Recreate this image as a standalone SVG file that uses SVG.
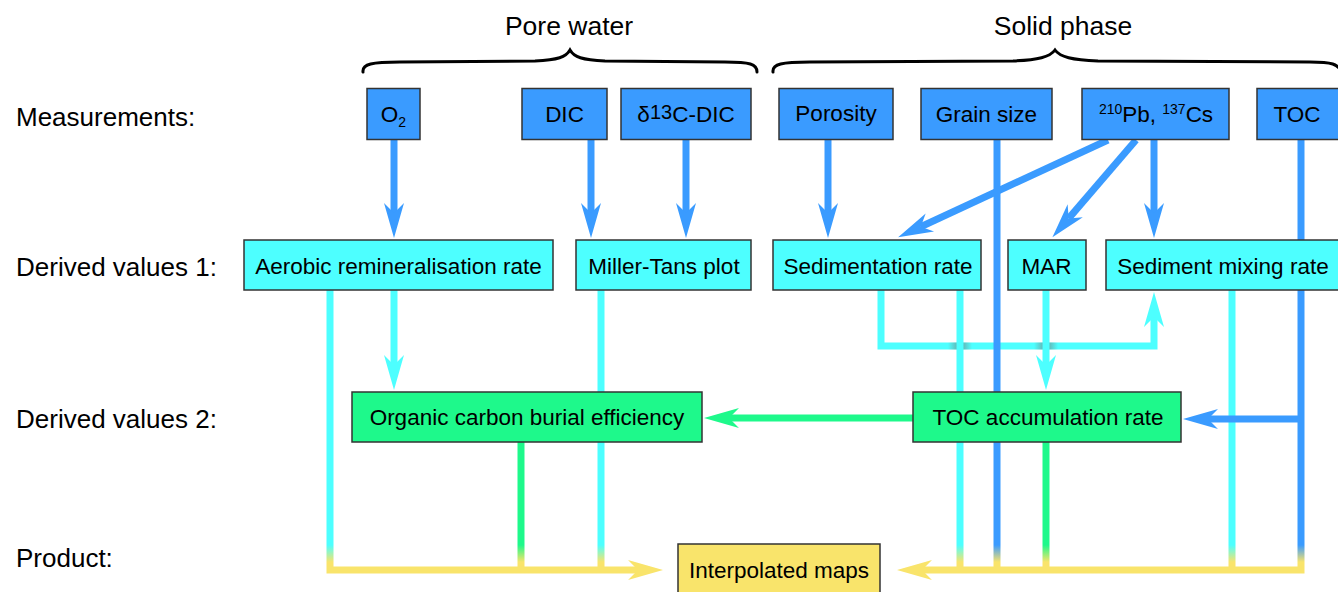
<svg xmlns="http://www.w3.org/2000/svg" width="1338" height="592" viewBox="0 0 1338 592">
<style>
text{font-family:"Liberation Sans",Arial,sans-serif;fill:#000}
.lbl{font-size:26px}
.ttl{font-size:26.5px;text-anchor:middle}
.bt{font-size:22.5px;text-anchor:middle}
.box{stroke:#333;stroke-width:1.5}
.m{fill:#3a9bff}
.d1{fill:#4dffff}
.d2{fill:#1ef98b}
.p{fill:#f9e46b}
.ln{fill:none;stroke-width:7;stroke-linejoin:miter}
.cb{stroke:#3a9bff}
.cc{stroke:#4dffff}
.cg{stroke:#1ef98b}
.cy{stroke:#f9e46b}
.brace{fill:none;stroke:#000;stroke-width:3;stroke-linecap:round}
</style>
<defs>
<marker id="ab" markerUnits="userSpaceOnUse" orient="auto" refX="0" refY="0" markerWidth="40" markerHeight="24" overflow="visible"><path d="M25,0 L-10,-10 L0,0 L-10,10 Z" fill="#3a9bff"/></marker>
<marker id="ac" markerUnits="userSpaceOnUse" orient="auto" refX="0" refY="0" markerWidth="40" markerHeight="24" overflow="visible"><path d="M25,0 L-10,-10 L0,0 L-10,10 Z" fill="#4dffff"/></marker>
<marker id="ag" markerUnits="userSpaceOnUse" orient="auto" refX="0" refY="0" markerWidth="40" markerHeight="24" overflow="visible"><path d="M25,0 L-10,-10 L0,0 L-10,10 Z" fill="#1ef98b"/></marker>
<marker id="ay" markerUnits="userSpaceOnUse" orient="auto" refX="0" refY="0" markerWidth="40" markerHeight="24" overflow="visible"><path d="M25,0 L-10,-10 L0,0 L-10,10 Z" fill="#f9e46b"/></marker>
<linearGradient id="gc" gradientUnits="userSpaceOnUse" x1="0" y1="545" x2="0" y2="562"><stop offset="0" stop-color="#4dffff"/><stop offset="1" stop-color="#f9e46b"/></linearGradient>
<linearGradient id="gb" gradientUnits="userSpaceOnUse" x1="0" y1="545" x2="0" y2="562"><stop offset="0" stop-color="#3a9bff"/><stop offset="1" stop-color="#f9e46b"/></linearGradient>
<linearGradient id="gg" gradientUnits="userSpaceOnUse" x1="0" y1="545" x2="0" y2="562"><stop offset="0" stop-color="#1ef98b"/><stop offset="1" stop-color="#f9e46b"/></linearGradient>
<linearGradient id="sh" x1="0" y1="0" x2="1" y2="0"><stop offset="0" stop-color="#777" stop-opacity="0"/><stop offset="0.5" stop-color="#777" stop-opacity="0.7"/><stop offset="1" stop-color="#777" stop-opacity="0"/></linearGradient>
</defs>

<g id="headers">
<text class="ttl" x="569" y="35">Pore water</text>
<text class="ttl" x="1063" y="35">Solid phase</text>
<path class="brace" d="M363,72 C362,64 372,62 400,62 L535,61 C558,60 566,57 570,50 C574,57 582,60 605,61 L725,62 C750,62 757,64 757,72"/>
<path class="brace" d="M773,72 C772,64 782,62 810,62 L1013,61 C1038,60 1050,57 1055,50 C1060,57 1072,60 1098,61 L1310,62 C1332,62 1338,64 1342,72"/>
<text class="lbl" x="16" y="126">Measurements:</text>
<text class="lbl" x="16" y="276">Derived values 1:</text>
<text class="lbl" x="16" y="428">Derived values 2:</text>
<text class="lbl" x="16" y="567">Product:</text>
</g>

<g id="connectors">
<line class="ln cb" x1="394" y1="140" x2="394" y2="213" marker-end="url(#ab)"/>
<line class="ln cb" x1="591" y1="140" x2="591" y2="213" marker-end="url(#ab)"/>
<line class="ln cb" x1="686" y1="140" x2="686" y2="213" marker-end="url(#ab)"/>
<line class="ln cb" x1="828" y1="140" x2="828" y2="213" marker-end="url(#ab)"/>
<line class="ln cb" x1="1108" y1="140" x2="920.8" y2="226.7" marker-end="url(#ab)"/>
<line class="ln cb" x1="1136" y1="140" x2="1068.7" y2="218.4" marker-end="url(#ab)"/>
<line class="ln cb" x1="1154" y1="140" x2="1154" y2="213" marker-end="url(#ab)"/>
<path class="ln cc" d="M881,290 V346 H1154 V317" marker-end="url(#ac)"/>
<rect x="948" y="342.5" width="24" height="7" fill="url(#sh)"/>
<rect x="1034" y="342.5" width="24" height="7" fill="url(#sh)"/>
<line class="ln cc" x1="394" y1="290" x2="394" y2="365" marker-end="url(#ac)"/>
<line class="ln cc" x1="1046" y1="290" x2="1046" y2="365" marker-end="url(#ac)"/>
<path class="ln" stroke="url(#gc)" d="M330,290 V570 H638" marker-end="url(#ay)"/>
<line class="ln" stroke="url(#gg)" x1="521" y1="442" x2="521" y2="570"/>
<line class="ln" stroke="url(#gc)" x1="601" y1="290" x2="601" y2="570"/>
<line class="ln" stroke="url(#gc)" x1="960" y1="290" x2="960" y2="570"/>
<line class="ln" stroke="url(#gg)" x1="1046" y1="442" x2="1046" y2="570"/>
<line class="ln" stroke="url(#gc)" x1="1232" y1="290" x2="1232" y2="570"/>
<line class="ln" stroke="url(#gb)" x1="997" y1="140" x2="997" y2="570"/>
<path class="ln" stroke="url(#gb)" d="M1301,140 V570 H922" marker-end="url(#ay)"/>
<line class="ln cb" x1="1301" y1="419" x2="1208" y2="419" marker-end="url(#ab)"/>
<line class="ln cg" x1="913" y1="418" x2="729" y2="418" marker-end="url(#ag)"/>
</g>

<g id="node-o2"><rect class="box m" x="367" y="88.5" width="53" height="51"/><text class="bt" x="393.5" y="122">O<tspan font-size="14" dy="5">2</tspan></text></g>
<g id="node-dic"><rect class="box m" x="522" y="88.5" width="85" height="51"/><text class="bt" x="564.5" y="122">DIC</text></g>
<g id="node-d13c"><rect class="box m" x="621" y="88.5" width="130" height="51"/><text class="bt" x="686" y="122">δ<tspan font-size="20" dy="-3">13</tspan><tspan dy="3">C-DIC</tspan></text></g>
<g id="node-porosity"><rect class="box m" x="779" y="88.5" width="114" height="51"/><text class="bt" x="836" y="121">Porosity</text></g>
<g id="node-grain"><rect class="box m" x="921" y="88.5" width="131" height="51"/><text class="bt" x="986.5" y="122">Grain size</text></g>
<g id="node-pbcs"><rect class="box m" x="1082" y="88.5" width="147" height="51"/><text class="bt" x="1156" y="122"><tspan font-size="14" dy="-8">210</tspan><tspan dy="8">Pb, </tspan><tspan font-size="14" dy="-8">137</tspan><tspan dy="8">Cs</tspan></text></g>
<g id="node-toc"><rect class="box m" x="1257" y="88.5" width="90" height="51"/><text class="bt" x="1297" y="122">TOC</text></g>

<g id="node-aerobic"><rect class="box d1" x="244" y="240" width="309" height="50"/><text class="bt" x="398.5" y="274">Aerobic remineralisation rate</text></g>
<g id="node-millertans"><rect class="box d1" x="576" y="240" width="175" height="50"/><text class="bt" x="664" y="274">Miller-Tans plot</text></g>
<g id="node-sedrate"><rect class="box d1" x="773" y="240" width="208" height="50"/><text class="bt" x="878" y="274">Sedimentation rate</text></g>
<g id="node-mar"><rect class="box d1" x="1008" y="240" width="78" height="50"/><text class="bt" x="1046.5" y="274">MAR</text></g>
<g id="node-mixing"><rect class="box d1" x="1106" y="240" width="240" height="50"/><text class="bt" x="1223" y="274">Sediment mixing rate</text></g>

<g id="node-ocbe"><rect class="box d2" x="352" y="392" width="350" height="50"/><text class="bt" x="527" y="425">Organic carbon burial efficiency</text></g>
<g id="node-tocacc"><rect class="box d2" x="913" y="392" width="268" height="50"/><text class="bt" x="1048" y="425">TOC accumulation rate</text></g>

<g id="node-maps"><rect class="box p" x="678" y="544" width="202" height="56"/><text class="bt" x="779" y="578">Interpolated maps</text></g>
</svg>
